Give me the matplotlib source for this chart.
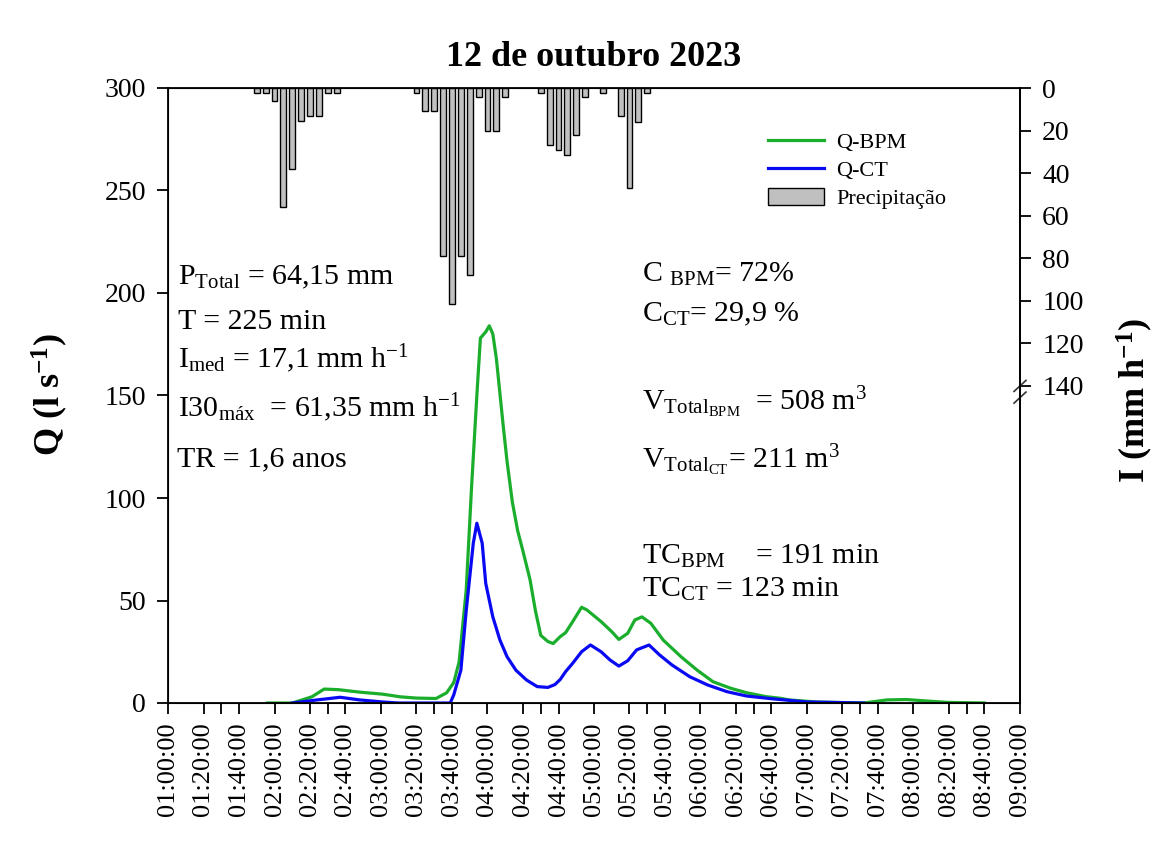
import numpy as np
import matplotlib
matplotlib.use("Agg")
import matplotlib.pyplot as plt
from matplotlib.ticker import FixedLocator, FuncFormatter

plt.rcParams['font.family'] = ['Liberation Serif', 'DejaVu Serif']
plt.rcParams['mathtext.fontset'] = 'custom'
plt.rcParams['mathtext.rm'] = 'Liberation Serif'
plt.rcParams['mathtext.it'] = 'Liberation Serif:italic'
plt.rcParams['mathtext.bf'] = 'Liberation Serif:bold'
plt.rcParams['mathtext.default'] = 'regular'


def hours(hhmm):
    return np.array([int(s[:2]) + int(s[3:5]) / 60 for s in hhmm])


# precipitação (intensidade a cada 5 min, mm/h)
chuva_hora = ["01:50", "01:55", "02:00", "02:05", "02:10", "02:15", "02:20", "02:25", "02:30", "02:35",
              "03:20", "03:25", "03:30", "03:35", "03:40", "03:45", "03:50", "03:55", "04:00", "04:05", "04:10",
              "04:30", "04:35", "04:40", "04:45", "04:50", "04:55",
              "05:05", "05:15", "05:20", "05:25", "05:30"]
chuva_int = [2.5, 2.5, 6, 56, 38, 15.5, 13, 13, 2.5, 2.5,
             2.5, 11, 11, 79, 101.5, 79, 88, 4, 20, 20, 4,
             2.5, 27, 29, 31.5, 22, 4,
             2.5, 13, 47, 16, 2.5]

# vazão Q-BPM (l/s)
bpm_hora = ["01:56", "02:10", "02:21", "02:28", "02:36", "02:48", "03:01", "03:11", "03:20", "03:31",
            "03:37", "03:41", "03:44", "03:48", "03:51", "03:54", "03:56", "03:59", "04:01", "04:03",
            "04:05", "04:07", "04:09", "04:11", "04:14", "04:17", "04:20", "04:24", "04:27", "04:30",
            "04:34", "04:37", "04:41", "04:44", "04:48", "04:53", "04:56", "05:04", "05:10", "05:14",
            "05:19", "05:23", "05:27", "05:32", "05:39", "05:49", "05:58", "06:07", "06:17", "06:26",
            "06:37", "06:45", "06:50", "07:05", "07:32", "07:45", "07:56", "08:07", "08:19", "08:40"]
bpm_q = [0, 0, 3, 6.8, 6.5, 5.3, 4.3, 3, 2.4, 2.2,
         5, 10, 20, 55, 105, 150, 178, 181, 184, 180,
         168, 151, 134, 118, 98, 84, 74, 60, 45, 33,
         30, 29, 32.4, 34.3, 39.7, 46.7, 45.4, 39.7, 34.8, 31,
         34, 40.5, 42, 38.9, 30.7, 22.6, 16.1, 10.4, 7.2, 5,
         3.1, 2.3, 1.5, 0.5, 0, 1.5, 1.7, 1, 0.3, 0]

# vazão Q-CT (l/s)
ct_hora = ["02:10", "02:24", "02:37", "02:48", "03:01", "03:10", "03:39", "03:41", "03:45", "03:48",
           "03:52", "03:54", "03:57", "03:59", "04:03", "04:07", "04:11", "04:16", "04:22", "04:28",
           "04:34", "04:38", "04:41", "04:44", "04:48", "04:53", "04:58", "05:04", "05:09", "05:14",
           "05:19", "05:24", "05:31", "05:37", "05:44", "05:54", "06:04", "06:15", "06:26", "06:41",
           "07:00", "07:32"]
ct_q = [0, 1.5, 2.8, 1.5, 0.5, 0, 0, 4, 16, 45,
        78, 87.7, 78, 58.4, 42, 30.7, 22.6, 16, 11.2, 8,
        7.6, 9, 11.5, 15.3, 19.4, 25, 28.3, 25, 21, 18,
        20.6, 25.9, 28.3, 23.4, 18.5, 12.8, 8.8, 5.5, 3.4, 2,
        0.5, 0]

fig = plt.figure(figsize=(11.73, 8.47), dpi=100)
ax = fig.add_axes([168 / 1173, 1 - 703 / 847, 852 / 1173, 615 / 847])

l1, = ax.plot(hours(bpm_hora), bpm_q, color='#1aae2c', lw=2.3, label='Q-BPM')
l2, = ax.plot(hours(ct_hora), ct_q, color='#0a0af2', lw=2.3, label='Q-CT')

ax.set_xlim(1, 9)
ax.set_ylim(0, 300)
ax.set_yticks([0, 50, 100, 150, 200, 250, 300])
ax.xaxis.set_major_locator(FixedLocator(np.arange(1, 9.001, 1 / 3)))
ax.xaxis.set_minor_locator(FixedLocator(np.arange(1.5, 9, 1)))


def fmt_hora(x, pos):
    m = int(round(x * 60))
    return "%02d:%02d:00" % (m // 60, m % 60)


ax.xaxis.set_major_formatter(FuncFormatter(fmt_hora))
ax.tick_params(axis='x', which='both', direction='out', length=8, width=1.3,
               labelsize=19, rotation=90, pad=6)
ax.tick_params(axis='y', direction='out', length=8, width=1.3, labelsize=20, pad=8)
for s in ax.spines.values():
    s.set_linewidth(1.3)

ax2 = ax.twinx()
bars = ax2.bar(hours(chuva_hora), chuva_int, width=3.3 / 60, color='#c0c0c0',
               edgecolor='black', linewidth=1.0, label='Precipitação')
ax2.set_ylim(289, 0)
ax2.set_yticks([0, 20, 40, 60, 80, 100, 120, 140])
ax2.tick_params(axis='y', direction='out', length=8, width=1.3, labelsize=20, pad=8)
ax2.spines['right'].set_linewidth(1.3)

fig.text(50 / 1173, 1 - 395 / 847, 'Q (l s$^{-1}$)', fontsize=26, fontweight='bold',
         rotation=90, ha='center', va='center')
fig.text(1135 / 1173, 1 - 400 / 847, 'I (mm h$^{-1}$)', fontsize=26, fontweight='bold',
         rotation=90, ha='center', va='center')

# quebra do eixo direito em 140
y140 = 1 - 140 / 289
for dy in (0.0, -0.019):
    ax2.plot([0.993, 1.007], [y140 + dy - 0.009, y140 + dy + 0.009], transform=ax2.transAxes,
             color='#333333', lw=1.2, clip_on=False)

ax.set_title('12 de outubro 2023', fontsize=26, fontweight='bold', pad=16)

fig.legend(handles=[l1, l2, bars], loc='upper left', bbox_to_anchor=(757 / 1173, 1 - 121 / 847),
           frameon=False, fontsize=16, handlelength=2.5, handleheight=0.8, labelspacing=0.3,
           handletextpad=0.55, borderpad=0)

kw = dict(transform=ax.transAxes, fontsize=21.5, va='baseline')
ax.text(0.012, 0.680, 'P$_{Total}$ = 64,15 mm', **kw)
ax.text(0.012, 0.608, 'T = 225 min', **kw)
ax.text(0.012, 0.545, 'I$_{med}$ = 17,1 mm h$^{-1}$', **kw)
ax.text(0.012, 0.465, 'I30$_{máx}$  = 61,35 mm h$^{-1}$', **kw)
ax.text(0.010, 0.384, 'TR = 1,6 anos', **kw)

ax.text(0.556, 0.685, 'C $_{BPM}$= 72%', **kw)
ax.text(0.556, 0.620, 'C$_{CT}$= 29,9 %', **kw)
ax.text(0.556, 0.476, 'V$_{Total_{BPM}}$  = 508 m$^{3}$', **kw)
ax.text(0.556, 0.382, 'V$_{Total_{CT}}$= 211 m$^{3}$', **kw)
ax.text(0.556, 0.227, 'TC$_{BPM}$    = 191 min', **kw)
ax.text(0.556, 0.173, 'TC$_{CT}$ = 123 min', **kw)

fig.savefig('out.png', dpi=100)
